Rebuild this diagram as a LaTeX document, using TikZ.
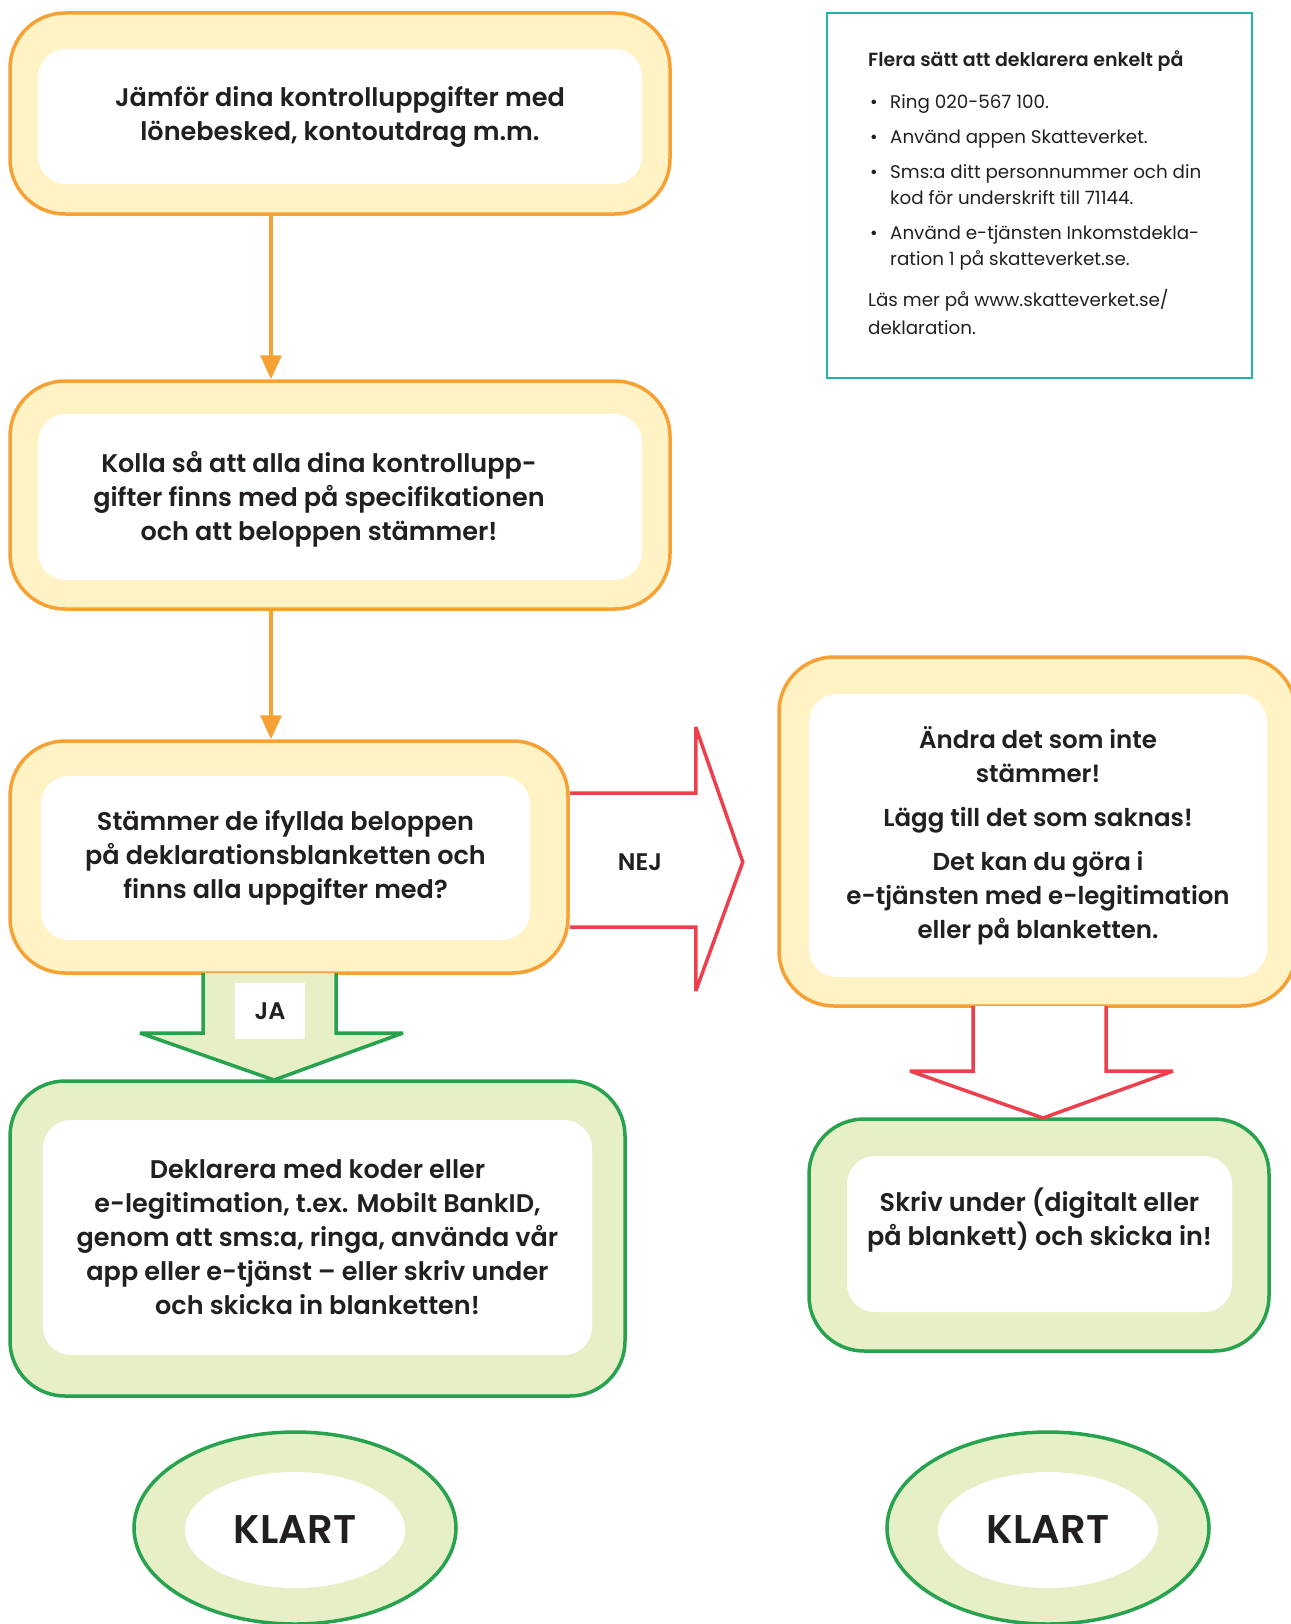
\documentclass[tikz,border=0pt]{standalone}
\usepackage{fontspec}
\setmainfont{Poppins}[BoldFont={Poppins SemiBold}]
\usetikzlibrary{arrows.meta,shapes.geometric}
\definecolor{orangeline}{HTML}{F7A033}
\definecolor{yellowfill}{HTML}{FFF3C6}
\definecolor{greenline}{HTML}{27A24E}
\definecolor{greenfill}{HTML}{E6EFC6}
\definecolor{redline}{HTML}{EE3F4D}
\definecolor{tealline}{HTML}{1FB5AA}
\definecolor{textdark}{HTML}{231F20}
\newcommand{\infobullet}{\makebox[22pt][l]{\hspace{2pt}\textbullet}}
\begin{document}
\begin{tikzpicture}[x=1pt, y=-1pt, inner sep=0pt,
  yellowbox/.style={draw=orangeline, fill=yellowfill, line width=3.5pt, rounded corners=55pt},
  greenbox/.style={draw=greenline, fill=greenfill, line width=3.5pt, rounded corners=55pt},
  whitebox/.style={fill=white, rounded corners=28pt, align=center, text=textdark,
    font=\fontsize{25.5}{34}\selectfont\bfseries},
  boxtext/.style={align=center, text=textdark, font=\fontsize{25.5}{34}\selectfont\bfseries},
  orangearrow/.style={draw=orangeline, line width=3.5pt, -{Triangle[width=21pt,length=24pt]}},
  blockred/.style={draw=redline, fill=white, line width=3.5pt, miter limit=1.5},
  blockgreen/.style={draw=greenline, fill=greenfill, line width=3.5pt, miter limit=1.5},
  answer/.style={text=textdark, font=\fontsize{24}{26}\selectfont\bfseries},
  klartring/.style={ellipse, draw=greenline, fill=greenfill, line width=3.5pt,
    minimum width=322pt, minimum height=192pt},
  klartcore/.style={ellipse, fill=white, minimum width=220pt, minimum height=116pt,
    text=textdark, font=\fontsize{40}{44}\selectfont\bfseries}]
\useasboundingbox (0,0) rectangle (1290,1624);
%%%%%%%%%%%%%%%%%%%%%%%%%%%%%%% left column
\node[yellowbox, minimum width=660pt, minimum height=201pt](b1out) at (340,113.5){};
\node[whitebox, minimum width=604pt, minimum height=135pt](b1) at (340,116.5){J\"amf\"or dina kontrolluppgifter med\\l\"onebesked, kontoutdrag m.m.};
\node[yellowbox, minimum width=660pt, minimum height=228pt](b2out) at (340,495){};
\node[whitebox, minimum width=604pt, minimum height=166pt](b2) at (340,497){};
\node[boxtext](b2text) at (319,499){Kolla s\aa{} att alla dina kontrollupp-\\gifter finns med p\aa{} specifikationen\\och att beloppen st\"ammer!};
\node[yellowbox, minimum width=558pt, minimum height=232pt](b3out) at (289,857){};
\node[whitebox, minimum width=489pt, minimum height=164pt](b3) at (285.5,858){St\"ammer de ifyllda beloppen\\p\aa{} deklarationsblanketten och\\finns alla uppgifter med?};
\node[greenbox, minimum width=615pt, minimum height=315pt](b4out) at (317.5,1238.5){};
\node[whitebox, minimum width=549pt, minimum height=235pt](b4) at (317.5,1237.5){Deklarera med koder eller\\e-legitimation, t.ex. Mobilt BankID,\\genom att sms:a, ringa, anv\"anda v\aa r\\app eller e-tj\"anst -- eller skriv under\\och skicka in blanketten!};
\node[klartring](k1out) at (295,1528){};
\node[klartcore](k1) at (295,1530){KLART};
%%%%%%%%%%%%%%%%%%%%%%%%%%%%%%% right column
\node[draw=tealline, line width=2.5pt, minimum width=425pt, minimum height=365pt](info) at (1039.5,195.5){};
\node[anchor=north west, align=left, text=textdark, font=\fontsize{18.3}{26}\selectfont](infotext) at (868,50.5){%
{\fontsize{19}{26}\selectfont\textbf{Flera s\"att att deklarera enkelt p\aa}}\\[16pt]
\infobullet Ring 020-567 100.\\[9pt]
\infobullet Anv\"and appen Skatteverket.\\[9pt]
\infobullet Sms:a ditt personnummer och din\\
\hspace*{22pt}kod f\"or underskrift till 71144.\\[9pt]
\infobullet Anv\"and e-tj\"ansten Inkomstdekla-\\
\hspace*{22pt}ration 1 p\aa{} skatteverket.se.\\[15pt]
L\"as mer p\aa{} www.skatteverket.se/\\[2pt]
deklaration.};
\node[yellowbox, minimum width=517pt, minimum height=349pt](b5out) at (1037.5,831.5){};
\node[whitebox, minimum width=458pt, minimum height=283pt, font=\fontsize{24.5}{34}\selectfont\bfseries](b5) at (1038,835.5){\"Andra det som inte\\st\"ammer!\\[10pt]L\"agg till det som saknas!\\[10pt]Det kan du g\"ora i\\e-tj\"ansten med e-legitimation\\eller p\aa{} blanketten.};
\node[greenbox, minimum width=460pt, minimum height=232pt](b6out) at (1039,1235){};
\node[whitebox, minimum width=385pt, minimum height=156pt](b6) at (1039.5,1234){Skriv under (digitalt eller\\p\aa{} blankett) och skicka in!\\\mbox{}};
\node[klartring](k2out) at (1048,1528){};
\node[klartcore](k2) at (1048,1530){KLART};
%%%%%%%%%%%%%%%%%%%%%%%%%%%%%%% connectors
\draw[orangearrow] ([xshift=-69pt]b1out.south) -- ([xshift=-69pt]b2out.north);
\draw[orangearrow] ([xshift=-69pt]b2out.south) -- ([xshift=-18pt]b3out.north);
\draw[blockred] (b3out.east) ++(0,-64) -- ++(126,0) -- ++(0,-66) -- ++(47,135) -- ++(-47,129) -- ++(0,-64) -- ++(-126,0);
\node[answer](nej) at (640,862){NEJ};
\draw[blockgreen] (203,973) -- (203,1033) -- (140,1033) -- (274,1080) -- (403,1033) -- (336,1033) -- (336,973);
\node[answer, fill=white, minimum width=70pt, minimum height=56pt](ja) at (270,1011){JA};
\draw[blockred] (973,1006) -- (973,1071) -- (910,1071) -- (1043,1118) -- (1173,1071) -- (1106,1071) -- (1106,1006);
\end{tikzpicture}
\end{document}
